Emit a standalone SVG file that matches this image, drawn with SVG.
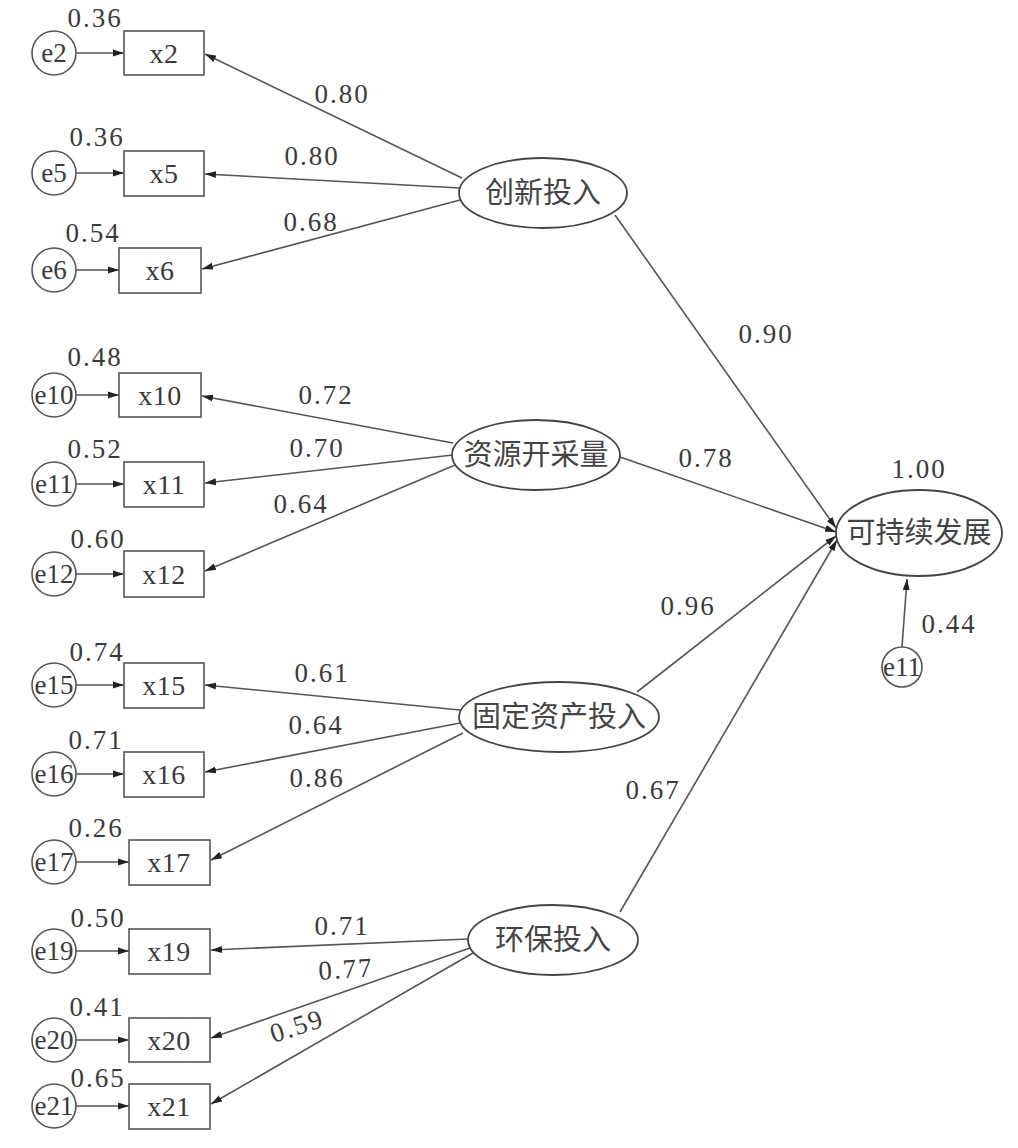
<svg xmlns="http://www.w3.org/2000/svg" width="1018" height="1148" viewBox="0 0 1018 1148">
<style>
.box{fill:#fff;stroke:#555;stroke-width:1.6}
.err{fill:#fff;stroke:#555;stroke-width:1.6}
.lat{fill:#fff;stroke:#444;stroke-width:1.8}
.ln{fill:none;stroke:#555;stroke-width:1.6;marker-end:url(#ah)}
.t{font-family:"Liberation Serif","Times New Roman",serif;font-size:28px;fill:#3a3a3a;text-anchor:middle;letter-spacing:0.5px}
.e{font-family:"Liberation Serif","Times New Roman",serif;font-size:27px;fill:#3a3a3a;text-anchor:middle}
.n{font-family:"Liberation Serif","Times New Roman",serif;font-size:27px;fill:#3a3a3a;text-anchor:middle;letter-spacing:2px}
.c{font-family:"Noto Sans CJK SC","Noto Sans",sans-serif;font-size:29px;fill:#444;text-anchor:middle}
</style>
<defs>
<marker id="ah" markerUnits="userSpaceOnUse" markerWidth="12" markerHeight="8" refX="11" refY="4" orient="auto">
<path d="M0,0.5 L11,4 L0,7.5 z" fill="#222"/>
</marker>
</defs>
<rect width="1018" height="1148" fill="#fff"/>

<g id="connectors">
<line class="ln" x1="76" y1="53" x2="124" y2="53"/>
<line class="ln" x1="76" y1="173" x2="124" y2="173"/>
<line class="ln" x1="76" y1="270" x2="119" y2="270"/>
<line class="ln" x1="76" y1="395" x2="119" y2="395"/>
<line class="ln" x1="76" y1="484" x2="124" y2="484"/>
<line class="ln" x1="76" y1="574" x2="124" y2="574"/>
<line class="ln" x1="76" y1="685" x2="124" y2="685"/>
<line class="ln" x1="76" y1="774" x2="124" y2="774"/>
<line class="ln" x1="76" y1="862" x2="129" y2="862"/>
<line class="ln" x1="76" y1="951" x2="129" y2="951"/>
<line class="ln" x1="76" y1="1040" x2="129" y2="1040"/>
<line class="ln" x1="76" y1="1106" x2="129" y2="1106"/>
<line class="ln" x1="462" y1="178" x2="205" y2="54"/>
<line class="ln" x1="460" y1="188" x2="205" y2="174"/>
<line class="ln" x1="460" y1="200" x2="202" y2="269"/>
<line class="ln" x1="453" y1="443" x2="202" y2="396"/>
<line class="ln" x1="453" y1="455" x2="205" y2="483"/>
<line class="ln" x1="455" y1="465" x2="205" y2="571"/>
<line class="ln" x1="460" y1="710" x2="205" y2="685"/>
<line class="ln" x1="460" y1="723" x2="205" y2="772"/>
<line class="ln" x1="463" y1="733" x2="211" y2="860"/>
<line class="ln" x1="468" y1="939" x2="211" y2="950"/>
<line class="ln" x1="470" y1="948" x2="211" y2="1038"/>
<line class="ln" x1="473" y1="953" x2="211" y2="1104"/>
<line class="ln" x1="615" y1="215" x2="836" y2="528"/>
<line class="ln" x1="620" y1="457" x2="836" y2="532"/>
<line class="ln" x1="637" y1="692" x2="836" y2="536"/>
<line class="ln" x1="620" y1="912" x2="837" y2="540"/>
<line class="ln" x1="902" y1="647" x2="907" y2="579"/>
</g>

<g id="e2"><circle class="err" cx="54" cy="53" r="22"/><text class="e" x="54" y="62">e2</text></g>
<g id="e5"><circle class="err" cx="54" cy="173" r="22"/><text class="e" x="54" y="182">e5</text></g>
<g id="e6"><circle class="err" cx="54" cy="270" r="22"/><text class="e" x="54" y="279">e6</text></g>
<g id="e10"><circle class="err" cx="54" cy="395" r="22"/><text class="e" x="54" y="404">e10</text></g>
<g id="e11"><circle class="err" cx="54" cy="484" r="22"/><text class="e" x="54" y="493">e11</text></g>
<g id="e12"><circle class="err" cx="54" cy="574" r="22"/><text class="e" x="54" y="583">e12</text></g>
<g id="e15"><circle class="err" cx="54" cy="685" r="22"/><text class="e" x="54" y="694">e15</text></g>
<g id="e16"><circle class="err" cx="54" cy="774" r="22"/><text class="e" x="54" y="783">e16</text></g>
<g id="e17"><circle class="err" cx="54" cy="862" r="22"/><text class="e" x="54" y="871">e17</text></g>
<g id="e19"><circle class="err" cx="54" cy="951" r="22"/><text class="e" x="54" y="960">e19</text></g>
<g id="e20"><circle class="err" cx="54" cy="1040" r="22"/><text class="e" x="54" y="1049">e20</text></g>
<g id="e21"><circle class="err" cx="54" cy="1106" r="22"/><text class="e" x="54" y="1115">e21</text></g>

<g id="x2"><rect class="box" x="124" y="31" width="80" height="44"/><text class="t" x="164" y="63">x2</text><text class="n" x="95" y="27">0.36</text></g>
<g id="x5"><rect class="box" x="124" y="151" width="80" height="45"/><text class="t" x="164" y="183">x5</text><text class="n" x="97" y="146">0.36</text></g>
<g id="x6"><rect class="box" x="119" y="248" width="82" height="45"/><text class="t" x="160" y="280">x6</text><text class="n" x="93" y="242">0.54</text></g>
<g id="x10"><rect class="box" x="119" y="373" width="82" height="44"/><text class="t" x="160" y="405">x10</text><text class="n" x="95" y="366">0.48</text></g>
<g id="x11"><rect class="box" x="124" y="462" width="80" height="45"/><text class="t" x="164" y="494">x11</text><text class="n" x="95" y="458">0.52</text></g>
<g id="x12"><rect class="box" x="124" y="551" width="80" height="46"/><text class="t" x="164" y="584">x12</text><text class="n" x="98" y="548">0.60</text></g>
<g id="x15"><rect class="box" x="124" y="663" width="80" height="45"/><text class="t" x="164" y="695">x15</text><text class="n" x="97" y="661">0.74</text></g>
<g id="x16"><rect class="box" x="124" y="752" width="80" height="45"/><text class="t" x="164" y="784">x16</text><text class="n" x="96" y="749">0.71</text></g>
<g id="x17"><rect class="box" x="129" y="840" width="81" height="45"/><text class="t" x="169" y="872">x17</text><text class="n" x="96" y="837">0.26</text></g>
<g id="x19"><rect class="box" x="129" y="929" width="81" height="45"/><text class="t" x="169" y="961">x19</text><text class="n" x="98" y="927">0.50</text></g>
<g id="x20"><rect class="box" x="129" y="1018" width="81" height="44"/><text class="t" x="169" y="1050">x20</text><text class="n" x="97" y="1016">0.41</text></g>
<g id="x21"><rect class="box" x="129" y="1084" width="81" height="45"/><text class="t" x="169" y="1116">x21</text><text class="n" x="98" y="1087">0.65</text></g>

<g id="innovation"><ellipse class="lat" cx="543" cy="193" rx="84" ry="35"/><text class="c" x="543" y="203">创新投入</text></g>
<g id="resource"><ellipse class="lat" cx="536" cy="455" rx="84" ry="35"/><text class="c" x="536" y="465">资源开采量</text></g>
<g id="fixed"><ellipse class="lat" cx="559" cy="717" rx="100" ry="35"/><text class="c" x="559" y="727">固定资产投入</text></g>
<g id="environment"><ellipse class="lat" cx="553" cy="940" rx="85" ry="35"/><text class="c" x="553" y="950">环保投入</text></g>
<g id="sustainable"><ellipse class="lat" cx="919" cy="533" rx="83" ry="43"/><text class="c" x="919" y="543">可持续发展</text><text class="n" x="919" y="478">1.00</text></g>
<g id="e11r"><circle class="err" cx="902" cy="667" r="20"/><text class="e" x="902" y="676">e11</text><text class="n" x="949" y="633">0.44</text></g>

<g id="loading-labels">
<text class="n" x="342" y="103">0.80</text>
<text class="n" x="312" y="165">0.80</text>
<text class="n" x="311" y="231">0.68</text>
<text class="n" x="326" y="404">0.72</text>
<text class="n" x="317" y="457">0.70</text>
<text class="n" x="301" y="513">0.64</text>
<text class="n" x="322" y="682">0.61</text>
<text class="n" x="316" y="734">0.64</text>
<text class="n" x="317" y="787">0.86</text>
<text class="n" x="342" y="935">0.71</text>
<text class="n" x="346" y="978" transform="rotate(-4 346 970)">0.77</text>
<text class="n" x="297" y="1035" transform="rotate(-18 297 1026)">0.59</text>
<text class="n" x="766" y="343">0.90</text>
<text class="n" x="706" y="467">0.78</text>
<text class="n" x="688" y="615">0.96</text>
<text class="n" x="653" y="799">0.67</text>
</g>
</svg>
